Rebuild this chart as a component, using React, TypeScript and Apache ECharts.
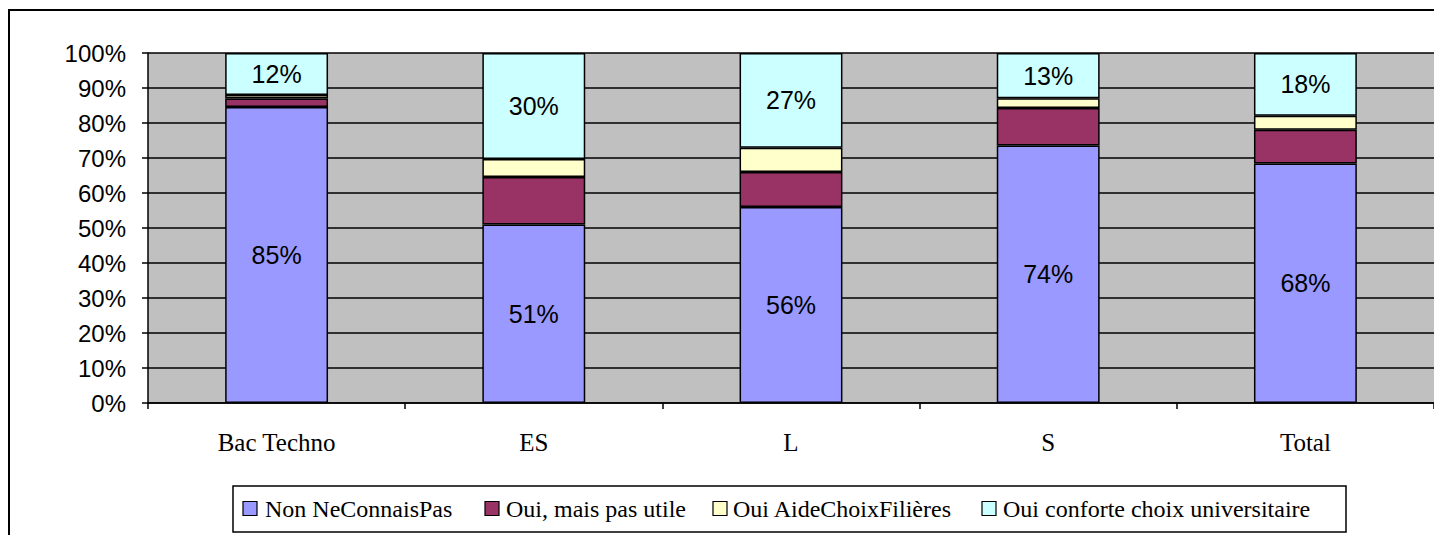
import React, { useEffect, useRef } from "react";
import * as echarts from "echarts";

const categories = ["Bac Techno", "ES", "L", "S", "Total"];
const nonNeConnaisPas = [84.6, 51.0, 56.0, 73.6, 68.4];
const ouiPasUtile = [2.4, 13.6, 10.0, 10.7, 9.7];
const ouiAideChoix = [1.0, 5.1, 6.9, 2.8, 4.0];
const ouiConforte = [12.0, 30.3, 27.1, 12.9, 17.9];
const seriesNames = [
  "Non NeConnaisPas",
  "Oui, mais pas utile",
  "Oui AideChoixFilières",
  "Oui conforte choix universitaire",
];
const colors = ["#9999FF", "#993366", "#FFFFCC", "#CCFFFF"];

const SANS = "'Liberation Sans', Arial, sans-serif";
const SERIF = "'Liberation Serif', 'Times New Roman', serif";

// legend layout (manually drawn box)
const legendIconX = [243, 485, 713, 982];
const legendTextX = [265, 506, 733, 1003];

export default function App() {
  const ref = useRef<HTMLDivElement>(null);
  useEffect(() => {
    if (!ref.current) return;
    const chart = echarts.init(ref.current, null, { renderer: "svg" });
    const data = [nonNeConnaisPas, ouiPasUtile, ouiAideChoix, ouiConforte];
    const showLabel = [true, false, false, true];
    const legendGraphics: any[] = [
      {
        type: "rect",
        shape: { x: 233, y: 486, width: 1113, height: 46 },
        style: { fill: "#fff", stroke: "#000", lineWidth: 1.5 },
        silent: true,
      },
    ];
    seriesNames.forEach((name, i) => {
      legendGraphics.push({
        type: "rect",
        shape: { x: legendIconX[i], y: 501.5, width: 14, height: 14 },
        style: { fill: colors[i], stroke: "#000", lineWidth: 1.2 },
        silent: true,
      });
      legendGraphics.push({
        type: "text",
        x: legendTextX[i],
        y: 497,
        style: {
          text: name,
          fill: "#000",
          fontFamily: SERIF,
          fontSize: 24,
          align: "left",
          verticalAlign: "top",
        },
        silent: true,
      });
    });
    chart.setOption({
      animation: false,
      textStyle: { fontFamily: SERIF, fontSize: 24, color: "#000" },
      grid: {
        left: 148,
        right: 0,
        top: 53,
        bottom: 132,
        show: true,
        backgroundColor: "#C0C0C0",
        borderWidth: 0,
      },
      xAxis: {
        type: "category",
        data: categories,
        axisLine: { lineStyle: { color: "#000", width: 1.5 } },
        axisTick: { show: true, length: 6, lineStyle: { color: "#000", width: 1.5 } },
        axisLabel: { color: "#000", fontFamily: SERIF, fontSize: 25, margin: 27 },
      },
      yAxis: {
        type: "value",
        min: 0,
        max: 100,
        interval: 10,
        axisLine: { show: true, lineStyle: { color: "#000", width: 1.5 } },
        axisTick: { show: true, length: 6, lineStyle: { color: "#000", width: 1.5 } },
        axisLabel: {
          color: "#000",
          fontFamily: SANS,
          fontSize: 24,
          margin: 22,
          formatter: "{value}%",
        },
        splitLine: { show: true, lineStyle: { color: "#000", width: 1.5 } },
      },
      series: seriesNames.map((name, i) => ({
        name,
        type: "bar",
        stack: "total",
        barWidth: "40%",
        data: data[i],
        itemStyle: { color: colors[i], borderColor: "#000", borderWidth: 1.5 },
        label: {
          show: showLabel[i],
          position: "inside",
          color: "#000",
          fontFamily: SANS,
          fontSize: 25,
          formatter: (p: any) => Math.round(p.value) + "%",
        },
      })),
      graphic: [
        {
          type: "rect",
          shape: { x: 9, y: 10, width: 1500, height: 600 },
          style: { fill: "none", stroke: "#000", lineWidth: 2 },
          silent: true,
        },
        ...legendGraphics,
      ],
    });
    return () => chart.dispose();
  }, []);
  return (
    <div
      ref={ref}
      style={{ position: "absolute", left: 0, top: 0, width: 1434, height: 535, background: "#fff" }}
    />
  );
}
